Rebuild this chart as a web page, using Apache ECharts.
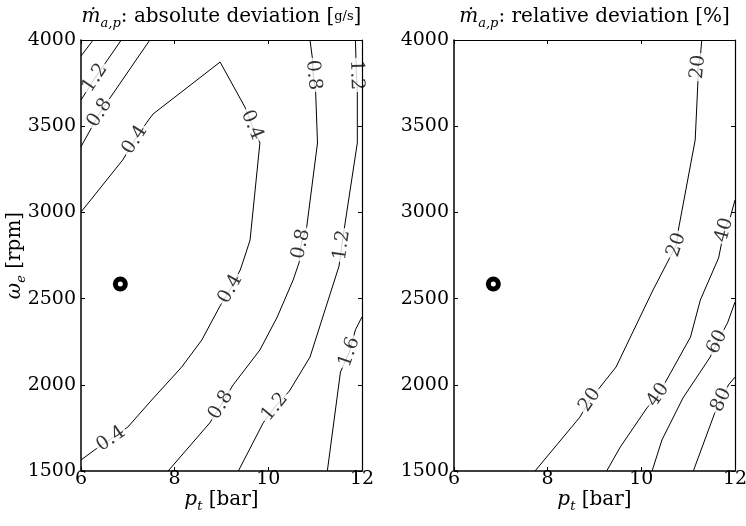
<!DOCTYPE html>
<html>
<head>
<meta charset="utf-8">
<script src="https://cdn.jsdelivr.net/npm/echarts@6/dist/echarts.min.js"></script>
<style>
html, body { margin: 0; padding: 0; background: #fff; }
#chart { width: 746px; height: 526px; }
</style>
</head>
<body>
<div id="chart"></div>
<script>
// Axis ticks: boost pressure p_t [bar] and engine speed omega_e [rpm]
const pTicks = [6, 8, 10, 12];
const wTicks = [1500, 2000, 2500, 3000, 3500, 4000];

// Absolute deviation of the air mass flow [g/s]: one level per contour line,
// each line given as [p_t, omega_e] vertices
const absLevels = [1.6, 1.2, 0.8, 0.4, 0.8, 1.2, 1.6];
const absLines = [
  [[6, 3907], [6.26, 4000]],
  [[6, 3652], [6.30, 3780], [6.86, 4000]],
  [[6, 3381], [6.40, 3577], [7.47, 4000]],
  [[6, 3002], [6.89, 3304], [7.15, 3420], [7.41, 3524], [7.54, 3571], [8.97, 3872],
   [9.50, 3611], [9.65, 3507], [9.82, 3403], [9.61, 2840], [9.50, 2747], [9.40, 2666],
   [9.19, 2556], [8.97, 2458], [8.58, 2260], [8.15, 2103], [7.51, 1912], [7.00, 1755],
   [6.64, 1686], [6.29, 1622], [6, 1564]],
  [[10.89, 4000], [10.94, 3896], [10.96, 3797], [11.01, 3698], [11.05, 3403], [10.82, 2917],
   [10.70, 2817], [10.66, 2712], [10.53, 2608], [10.19, 2393], [9.82, 2202], [9.25, 2000],
   [8.99, 1883], [8.75, 1779], [7.86, 1500]],
  [[11.86, 4000], [11.88, 3797], [11.90, 3710], [11.90, 3403], [11.64, 2939], [11.57, 2811],
   [11.51, 2689], [10.89, 2161], [10.45, 1964], [10.14, 1871], [9.89, 1779], [9.36, 1500]],
  [[12, 2394], [11.86, 2319], [11.73, 2190], [11.54, 2074], [11.26, 1500]]
];
// Where the inline level labels sit on the absolute-deviation lines
const absLabelAt = [
  [6.30, 3780], [6.40, 3577], [7.15, 3420], [9.65, 3507], [9.19, 2556], [6.64, 1686],
  [10.96, 3797], [10.70, 2817], [8.99, 1883], [11.88, 3797], [11.57, 2811], [10.14, 1871],
  [11.73, 2190]
];

// Relative deviation of the air mass flow [%]
const relLevels = [20, 40, 60, 80];
const relLines = [
  [[11.29, 4000], [11.26, 3901], [11.21, 3843], [11.21, 3768], [11.15, 3420], [10.79, 2898],
   [10.75, 2811], [10.55, 2707], [10.25, 2550], [9.46, 2103], [9.12, 1987], [8.90, 1912],
   [8.69, 1813], [7.73, 1500]],
  [[12, 3072], [11.90, 2973], [11.77, 2898], [11.65, 2736], [11.26, 2492], [11.05, 2277],
   [10.54, 2028], [10.36, 1941], [10.12, 1866], [9.55, 1639], [9.26, 1500]],
  [[12, 2480], [11.84, 2359], [11.62, 2248], [11.47, 2161], [10.89, 1924], [10.44, 1680],
   [10.23, 1500]],
  [[12, 2045], [11.86, 1999], [11.71, 1912], [11.56, 1831], [11.11, 1500]]
];
const relLabelAt = [
  [11.21, 3843], [10.75, 2811], [8.90, 1912], [11.77, 2898], [10.36, 1941], [11.62, 2248],
  [11.71, 1912]
];

// Operating point marked in both maps
const operatingPoint = [6.84, 2585];

const SERIF = '"DejaVu Serif", "Liberation Serif", serif';
const rich = {
  it:   { fontFamily: SERIF, fontStyle: 'italic', fontSize: 20, lineHeight: 26, color: '#000' },
  sub:  { fontFamily: SERIF, fontStyle: 'italic', fontSize: 13, lineHeight: 13, verticalAlign: 'bottom', color: '#000' },
  rm:   { fontFamily: SERIF, fontSize: 20, lineHeight: 26, color: '#000' },
  frac: { fontFamily: SERIF, fontSize: 13, lineHeight: 26, color: '#000' }
};
const TICK_FONT = 19;

const chart = echarts.init(document.getElementById('chart'), null, { renderer: 'canvas' });

function plain(v) { return String(v); }

function xPair(gridIndex, title, showName) {
  const common = {
    type: 'value', gridIndex: gridIndex,
    min: pTicks[0], max: pTicks[pTicks.length - 1], interval: pTicks[1] - pTicks[0],
    splitLine: { show: false },
    axisTick: { show: true, inside: true, length: 4, lineStyle: { color: '#000', width: 1 } },
    nameMoveOverlap: false,
    z: 5
  };
  return [
    Object.assign({}, common, {
      position: 'bottom',
      axisLine: { show: true, onZero: false, lineStyle: { color: '#000', width: 1.5 } },
      axisLabel: { show: true, margin: -1, fontFamily: SERIF, fontSize: TICK_FONT, color: '#000', formatter: plain },
      name: showName ? '{it|p}{sub|t}{rm| [bar]}' : '',
      nameLocation: 'middle', nameGap: 16, nameTextStyle: { rich: rich }
    }),
    Object.assign({}, common, {
      position: 'top',
      axisLine: { show: true, onZero: false, lineStyle: { color: '#000', width: 1.2 } },
      axisLabel: { show: false },
      name: title, nameLocation: 'middle', nameGap: 10, nameTextStyle: { rich: rich }
    })
  ];
}

function yPair(gridIndex, name) {
  const common = {
    type: 'value', gridIndex: gridIndex,
    min: wTicks[0], max: wTicks[wTicks.length - 1], interval: wTicks[1] - wTicks[0],
    splitLine: { show: false },
    axisTick: { show: true, inside: true, length: 4, lineStyle: { color: '#000', width: 1 } },
    nameMoveOverlap: false,
    z: 5
  };
  return [
    Object.assign({}, common, {
      position: 'left',
      axisLine: { show: true, onZero: false, lineStyle: { color: '#000', width: 1.5 } },
      axisLabel: { show: true, margin: 5, fontFamily: SERIF, fontSize: TICK_FONT, color: '#000', formatter: plain },
      name: name, nameLocation: 'middle', nameRotate: 90, nameGap: 53,
      nameTextStyle: { rich: rich }
    }),
    Object.assign({}, common, {
      position: 'right',
      axisLine: { show: true, onZero: false, lineStyle: { color: '#000', width: 1.2 } },
      axisLabel: { show: false }
    })
  ];
}

function lineSeries(lines, axisIndex) {
  return lines.map(pts => ({
    type: 'line', xAxisIndex: axisIndex, yAxisIndex: axisIndex,
    data: pts, showSymbol: false, symbol: 'none', silent: true, z: 2,
    lineStyle: { color: '#000', width: 1 }, animation: false
  }));
}

const absTitle = '{it|ṁ}{sub|a,p}{rm|: absolute deviation [}{frac|g/s}{rm|]}';
const relTitle = '{it|ṁ}{sub|a,p}{rm|: relative deviation [%]}';

const baseSeries = lineSeries(absLines, 0).concat(lineSeries(relLines, 2));

chart.setOption({
  animation: false,
  backgroundColor: '#fff',
  grid: [
    { left: 81, top: 40, width: 281, height: 431, outerBoundsMode: 'none' },
    { left: 454, top: 40, width: 281, height: 431, outerBoundsMode: 'none' }
  ],
  xAxis: xPair(0, absTitle, true).concat(xPair(1, relTitle, true)),
  yAxis: yPair(0, '{it|ω}{sub|e}{rm| [rpm]}').concat(yPair(1, '')),
  series: baseSeries
});

// Inline labels: text from the contour level, angle from the local line direction
function labelData(lines, levels, labelAt, seriesOffset) {
  return labelAt.map(pt => {
    const target = chart.convertToPixel({ seriesIndex: seriesOffset }, pt);
    let best = null;
    lines.forEach((line, li) => {
      line.forEach((v, k) => {
        const p = chart.convertToPixel({ seriesIndex: seriesOffset + li }, v);
        const d = Math.hypot(p[0] - target[0], p[1] - target[1]);
        if (!best || d < best.d) best = { d: d, li: li, k: k };
      });
    });
    const line = lines[best.li];
    const a = chart.convertToPixel({ seriesIndex: seriesOffset }, line[Math.max(best.k - 1, 0)]);
    const b = chart.convertToPixel({ seriesIndex: seriesOffset }, line[Math.min(best.k + 1, line.length - 1)]);
    let deg = Math.atan2(-(b[1] - a[1]), b[0] - a[0]) * 180 / Math.PI;
    if (deg > 90) deg -= 180;
    if (deg < -90) deg += 180;
    return {
      value: pt,
      label: { formatter: String(levels[best.li]), rotate: deg }
    };
  });
}

function labelSeries(data, axisIndex) {
  return {
    type: 'scatter', xAxisIndex: axisIndex, yAxisIndex: axisIndex,
    data: data, symbol: 'circle', symbolSize: 0.1, silent: true, z: 3,
    itemStyle: { color: 'rgba(0,0,0,0)' },
    label: {
      show: true, position: 'inside', fontFamily: SERIF, fontSize: TICK_FONT, color: '#000',
      backgroundColor: '#fff', padding: [0, 2]
    },
    animation: false
  };
}

// Operating point: black disc with a small white centre
function markerSeries(axisIndex, size, color, z) {
  return {
    type: 'scatter', xAxisIndex: axisIndex, yAxisIndex: axisIndex,
    data: [operatingPoint], symbol: 'circle', symbolSize: size, silent: true, z: z,
    itemStyle: { color: color, opacity: 1 },
    animation: false
  };
}

const absLabelData = labelData(absLines, absLevels, absLabelAt, 0);
const relLabelData = labelData(relLines, relLevels, relLabelAt, absLines.length);

chart.setOption({
  series: baseSeries.concat([
    labelSeries(absLabelData, 0),
    labelSeries(relLabelData, 2),
    markerSeries(0, 15, '#000', 4),
    markerSeries(0, 5, '#fff', 5),
    markerSeries(2, 15, '#000', 4),
    markerSeries(2, 5, '#fff', 5)
  ])
});
</script>
</body>
</html>
